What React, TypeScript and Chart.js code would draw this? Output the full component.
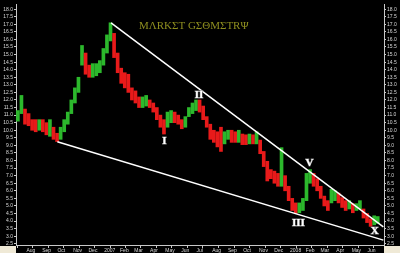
import { useEffect, useRef } from "react";
import Chart from "chart.js/auto";

// Weekly bars, x = days since 2006-07-01
const firstBarDay = 17;
const barStepDays = 7;
const highs = [
  11.3, 12.3, 11.4, 11.1, 10.7, 10.7, 10.7, 10.7, 10.5, 10.7,
  10.2, 9.8, 10.2, 10.7, 11.2, 12.0, 12.8, 13.5, 15.6, 15.1,
  14.3, 14.4, 14.4, 14.6, 15.4, 16.3, 17.1, 16.4, 15.1, 14.1,
  13.8, 13.7, 12.8, 12.6, 12.2, 12.2, 12.3, 12.0, 11.8, 11.5,
  11.0, 10.7, 11.2, 11.3, 11.2, 11.0, 10.7, 10.9, 11.5, 11.8,
  12.0, 12.0, 11.6, 10.9, 10.4, 10.0, 9.9, 10.2, 9.9, 10.0,
  10.0, 9.9, 10.0, 9.75, 9.7, 9.75, 9.7, 9.9, 9.35, 8.6,
  7.95, 7.4, 7.3, 7.15, 8.85, 7.0, 6.3, 5.5, 5.2, 5.2,
  5.5, 7.15, 7.4, 7.15, 6.8, 6.3, 5.65, 5.35, 6.1, 6.0,
  5.85, 5.55, 5.35, 5.35, 5.15, 5.15, 5.35, 4.8, 4.5, 4.15,
  4.35, 4.3,
];
const lows = [
  10.6, 11.1, 10.4, 10.3, 10.0, 9.9, 10.0, 9.9, 9.7, 9.6,
  9.4, 9.25, 9.4, 9.9, 10.4, 11.1, 11.8, 12.5, 14.3, 13.7,
  13.5, 13.5, 13.6, 13.8, 14.3, 15.1, 15.9, 14.8, 13.8, 13.1,
  12.8, 12.5, 12.0, 11.8, 11.5, 11.5, 11.6, 11.5, 11.2, 10.7,
  10.2, 9.75, 10.2, 10.5, 10.5, 10.4, 10.1, 10.2, 10.9, 11.1,
  11.3, 11.2, 10.7, 10.2, 9.4, 9.2, 8.9, 8.6, 9.1, 9.4,
  9.2, 9.2, 9.2, 9.05, 9.05, 9.1, 9.1, 9.1, 8.45, 7.6,
  6.65, 6.8, 6.5, 6.3, 6.3, 6.0, 5.35, 4.7, 4.5, 4.55,
  4.7, 5.35, 6.5, 6.3, 6.0, 5.5, 5.0, 4.7, 5.2, 5.35,
  5.2, 4.9, 4.7, 4.8, 4.55, 4.7, 4.8, 4.2, 3.9, 3.65,
  3.75, 3.85,
];

const monthLabels = [
  "Aug", "Sep", "Oct", "Nov", "Dec", "2007", "Feb", "Mar", "Apr", "May", "Jun", "Jul",
  "Aug", "Sep", "Oct", "Nov", "Dec", "2008", "Feb", "Mar", "Apr", "May", "Jun",
];
const yTickValues = [
  18.0, 17.5, 17.0, 16.5, 16.0, 15.5, 15.0, 14.5, 14.0, 13.5, 13.0, 12.5, 12.0, 11.5, 11.0, 10.5,
  10.0, 9.5, 9.0, 8.5, 8.0, 7.5, 7.0, 6.5, 6.0, 5.5, 5.0, 4.5, 4.0, 3.5, 3.0, 2.5,
];

const upperLineDays = [200, 735];
const upperLineValues = [17.09, 3.62];
const lowerLineDays = [94.5, 735];
const lowerLineValues = [9.24, 2.74];

const waveLabels = ["I", "II", "III", "V", "X"];
const waveDays = [305, 373, 568, 590, 718];
const waveValues = [9.3, 12.33, 3.88, 7.84, 3.33];

const titleText = "MΛRKΣT GΣΘMΣTRΨ";

const X_MIN = 13.3;
const X_MAX = 736.3;
const Y_MIN = 2.42;
const Y_MAX = 18.34;

const dayOfMonthStart = (k: number) =>
  Math.round((Date.UTC(2006, 7 + k, 1) - Date.UTC(2006, 6, 1)) / 86400000);

export default function App() {
  const ref = useRef<HTMLCanvasElement | null>(null);

  useEffect(() => {
    document.body.style.margin = "0";
    const canvas = ref.current;
    if (!canvas) return;

    const barData = highs.map((h, i) => ({ x: firstBarDay + barStepDays * i, y: [lows[i], h] }));
    const barColors = highs.map((h, i) => {
      if (i === 0) return "#2cb82c";
      const mid = (h + lows[i]) / 2;
      const prev = (highs[i - 1] + lows[i - 1]) / 2;
      return mid >= prev ? "#2cb82c" : "#e81a1a";
    });
    const monthDays = monthLabels.map((_, k) => dayOfMonthStart(k));

    const bgPlugin = {
      id: "bg",
      beforeDraw(chart: any) {
        const { ctx, width, height } = chart;
        ctx.save();
        ctx.fillStyle = "#000";
        ctx.fillRect(0, 0, width, height);
        ctx.fillStyle = "#efe9d6";
        ctx.fillRect(0, 246, 16, height - 246);
        ctx.fillRect(384, 246, width - 384, height - 246);
        ctx.restore();
      },
      afterDraw(chart: any) {
        const { ctx } = chart;
        const xs = chart.scales.x;
        const ys = chart.scales.y;
        ctx.save();
        ctx.font = 'bold 11px "Liberation Serif"';
        ctx.textAlign = "center";
        ctx.textBaseline = "middle";
        waveLabels.forEach((t, i) => {
          const px = xs.getPixelForValue(waveDays[i]);
          const py = ys.getPixelForValue(waveValues[i]);
          ctx.lineWidth = 1;
          ctx.strokeStyle = "#808080";
          ctx.strokeText(t, px, py);
          ctx.fillStyle = "#ffffff";
          ctx.fillText(t, px, py);
        });
        ctx.font = '11px "Liberation Serif"';
        ctx.textAlign = "left";
        ctx.textBaseline = "alphabetic";
        ctx.fillStyle = "#8f8f1f";
        ctx.fillText(titleText, 139, 28.5);
        ctx.restore();
      },
    };

    const tickFont = { family: "Liberation Sans", size: 5 };
    const yScale = (position: "left" | "right") => ({
      type: "linear" as const,
      position,
      min: Y_MIN,
      max: Y_MAX,
      afterBuildTicks(scale: any) {
        scale.ticks = yTickValues.map((v) => ({ value: v }));
      },
      afterFit(scale: any) {
        scale.width = 16;
      },
      ticks: {
        color: "#d8d8d8",
        font: tickFont,
        padding: 1,
        autoSkip: false,
        callback: (v: any) => Number(v).toFixed(1),
      },
      grid: { drawOnChartArea: false, color: "#c8c8c8", tickLength: 2 },
      border: { color: "#c8c8c8", width: 1 },
    });

    const chart = new Chart(canvas, {
      type: "bar",
      data: {
        datasets: [
          {
            type: "bar",
            data: barData as any,
            backgroundColor: barColors,
            borderWidth: 0,
            barThickness: 3,
            grouped: false,
            order: 2,
          } as any,
          {
            type: "line",
            data: upperLineDays.map((d, i) => ({ x: d, y: upperLineValues[i] })),
            borderColor: "#ffffff",
            borderWidth: 1.5,
            pointRadius: 0,
            order: 1,
          } as any,
          {
            type: "line",
            data: lowerLineDays.map((d, i) => ({ x: d, y: lowerLineValues[i] })),
            borderColor: "#ffffff",
            borderWidth: 1.5,
            pointRadius: 0,
            order: 1,
          } as any,
        ],
      },
      options: {
        animation: false,
        responsive: false,
        maintainAspectRatio: false,
        layout: { padding: 0 },
        plugins: { legend: { display: false }, tooltip: { enabled: false } },
        scales: {
          x: {
            type: "linear",
            position: "bottom",
            min: X_MIN,
            max: X_MAX,
            offset: false,
            afterBuildTicks(scale: any) {
              scale.ticks = monthDays.map((d) => ({ value: d }));
            },
            afterFit(scale: any) {
              scale.height = 8;
            },
            ticks: {
              color: "#d8d8d8",
              font: tickFont,
              padding: 0,
              align: "start",
              autoSkip: false,
              maxRotation: 0,
              callback: (v: any) => {
                const idx = monthDays.indexOf(Number(v));
                return idx >= 0 ? " " + monthLabels[idx] : "";
              },
            },
            grid: { drawOnChartArea: false, color: "#c8c8c8", tickLength: 3 },
            border: { color: "#c8c8c8", width: 1 },
          },
          y: yScale("left"),
          y2: yScale("right"),
        } as any,
      },
      plugins: [bgPlugin],
    });

    return () => chart.destroy();
  }, []);

  return <canvas ref={ref} width={400} height={253} style={{ display: "block" }} />;
}
